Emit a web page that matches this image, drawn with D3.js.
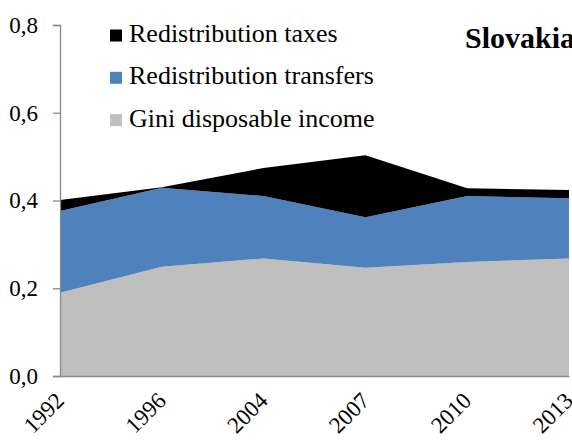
<!DOCTYPE html>
<html>
<head>
<meta charset="utf-8">
<script src="https://cdn.jsdelivr.net/npm/d3@7"></script>
</head>
<body style="margin:0">
<svg id="chart"></svg>
<script>
const width = 572;
const height = 443;
const fontName = 'Liberation Serif';

// data
const years = ['1992', '1996', '2004', '2007', '2010', '2013'];
const giniDisposable = [0.190, 0.249, 0.268, 0.247, 0.260, 0.268];
const redistTransfers = [0.186, 0.180, 0.142, 0.115, 0.150, 0.137];
const redistTaxes = [0.025, 0.001, 0.064, 0.141, 0.018, 0.019];
const yTicks = [0, 0.2, 0.4, 0.6, 0.8];

const seriesNames = ['Gini disposable income', 'Redistribution transfers', 'Redistribution taxes'];
const colors = ['#bfbfbf', '#4f81bd', '#000000'];

const margin = { top: 25, right: 3, bottom: 67, left: 60 };

const svg = d3.select('#chart')
  .attr('width', width)
  .attr('height', height);

const rows = years.map(function(y, i) {
  return { year: y, gini: giniDisposable[i], transfers: redistTransfers[i], taxes: redistTaxes[i] };
});

const stack = d3.stack().keys(['gini', 'transfers', 'taxes']);
const layers = stack(rows);

const x = d3.scalePoint()
  .domain(years)
  .range([margin.left, width - margin.right]);

const y = d3.scaleLinear()
  .domain([0, 0.8])
  .range([height - margin.bottom, margin.top]);

const area = d3.area()
  .x(function(d) { return x(d.data.year); })
  .y0(function(d) { return y(d[0]); })
  .y1(function(d) { return y(d[1]); });

svg.selectAll('path.layer')
  .data(layers)
  .enter()
  .append('path')
  .attr('class', 'layer')
  .attr('d', area)
  .attr('fill', function(d, i) { return colors[i]; });

// y axis
const yAxis = svg.append('g')
  .attr('transform', 'translate(' + margin.left + ',0)')
  .call(d3.axisLeft(y)
    .tickValues(yTicks)
    .tickSize(7)
    .tickPadding(15)
    .tickFormat(function(d) { return d3.format('.1f')(d).replace('.', ','); }));
yAxis.attr('font-family', fontName).attr('font-size', 23);
yAxis.select('.domain').attr('stroke', '#898989').attr('stroke-width', 1.3);
yAxis.selectAll('.tick line').attr('stroke', '#898989').attr('stroke-width', 1.3);
yAxis.selectAll('.tick text').attr('fill', '#000');

// x axis
const xAxis = svg.append('g')
  .attr('transform', 'translate(0,' + (height - margin.bottom) + ')')
  .call(d3.axisBottom(x).tickSize(0).tickPadding(0));
xAxis.attr('font-family', fontName).attr('font-size', 23);
xAxis.select('.domain').attr('stroke', '#898989').attr('stroke-width', 1.3);
xAxis.selectAll('.tick text')
  .attr('fill', '#000')
  .attr('text-anchor', 'end')
  .attr('dy', null)
  .attr('y', null)
  .attr('transform', 'translate(5,26) rotate(-45)');

// legend
const legendItems = [
  { name: seriesNames[2], color: colors[2] },
  { name: seriesNames[1], color: colors[1] },
  { name: seriesNames[0], color: colors[0] }
];
const legend = svg.append('g')
  .attr('font-family', fontName)
  .attr('font-size', 26);
legendItems.forEach(function(item, i) {
  const g = legend.append('g').attr('transform', 'translate(110,' + (29.5 + i * 42.3) + ')');
  g.append('rect').attr('width', 12).attr('height', 12).attr('fill', item.color);
  g.append('text')
    .attr('x', 19)
    .attr('y', 12.5)
    .text(item.name);
});

// title
svg.append('text')
  .attr('x', 465)
  .attr('y', 48)
  .attr('font-family', fontName)
  .attr('font-size', 30)
  .attr('font-weight', 'bold')
  .text('Slovakia');
</script>
</body>
</html>
